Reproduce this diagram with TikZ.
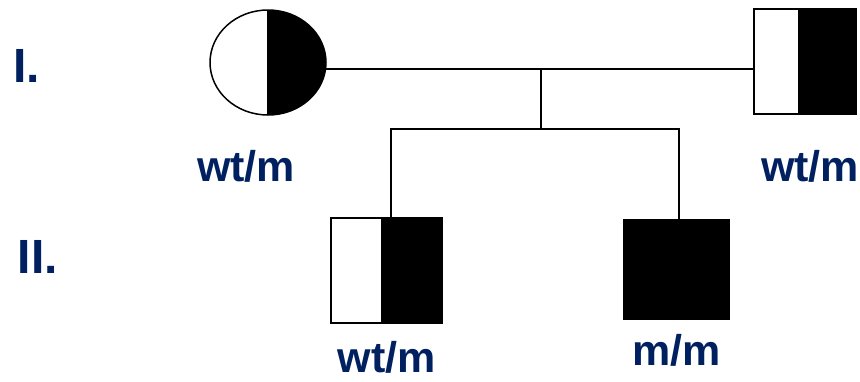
\documentclass[tikz,border=0pt]{standalone}
\usepackage{fontspec}
\setmainfont{Liberation Sans}
\usetikzlibrary{calc,shapes.geometric}
\definecolor{labelnavy}{RGB}{0,32,96}
\begin{document}
\begin{tikzpicture}[x=1pt,y=-1pt,
  link/.style={line width=1.8pt},
  % heterozygous female: right half filled
  carrierfemale/.style={ellipse, draw, line width=1.5pt, inner sep=0pt,
    minimum width=116pt, minimum height=105pt,
    path picture={
      \fill (path picture bounding box.north) rectangle (path picture bounding box.south east);
      \draw[line width=1.5pt] (path picture bounding box.north) -- (path picture bounding box.south);}},
  % heterozygous male: right part filled, split at fraction #1
  carriermale/.style={rectangle, draw, line width=1.6pt, inner sep=0pt,
    path picture={
      \fill ($(path picture bounding box.north west)!#1!(path picture bounding box.north east)$)
        rectangle (path picture bounding box.south east);
      \draw[line width=1.5pt]
        ($(path picture bounding box.north west)!#1!(path picture bounding box.north east)$) --
        ($(path picture bounding box.south west)!#1!(path picture bounding box.south east)$);}},
  affectedmale/.style={rectangle, draw, fill=black, line width=1.6pt, inner sep=0pt},
  genotype/.style={text=labelnavy, font=\bfseries\fontsize{43}{43}\selectfont, inner sep=0pt, anchor=base west},
  generation/.style={text=labelnavy, font=\bfseries\fontsize{48}{48}\selectfont, inner sep=0pt, anchor=base west}
]
\useasboundingbox (0,0) rectangle (860,381);

% generation I
\node[carrierfemale] (mother) at (268,62.5) {};
\node[carriermale=0.44, minimum width=102pt, minimum height=105pt] (father) at (805,61.5) {};

% generation II
\node[carriermale=0.46, minimum width=111pt, minimum height=105pt] (son1) at (386.5,270.5) {};
\node[affectedmale, minimum width=105pt, minimum height=99pt] (son2) at (676.5,269.5) {};

% mating line and sibship
\draw[link] (mother.-6) -- (mother.-6 -| father.west);
\coordinate (mate) at ($(mother.-6)!0.5!(mother.-6 -| father.west) + (1,0)$);
\coordinate (sib) at ($(mate) + (0,60)$);
\draw[link] (mate) -- (sib);
\draw[link] ($(son1.north west)!0.54!(son1.north east)$) |- (sib)
  -| ($(son2.north west)!0.52!(son2.north east)$);

% genotype labels
\node[genotype] (gmother) at (197,181.7) {wt/m};
\node[genotype] (gfather) at (761,181.7) {wt/m};
\node[genotype] (gson1) at (337.5,372) {wt/m};
\node[genotype] (gson2) at (632,365) {m/m};

% generation numbers
\node[generation] (genI) at (13,82.7) {I.};
\node[generation] (genII) at (17.5,273) {II.};
\end{tikzpicture}
\end{document}
